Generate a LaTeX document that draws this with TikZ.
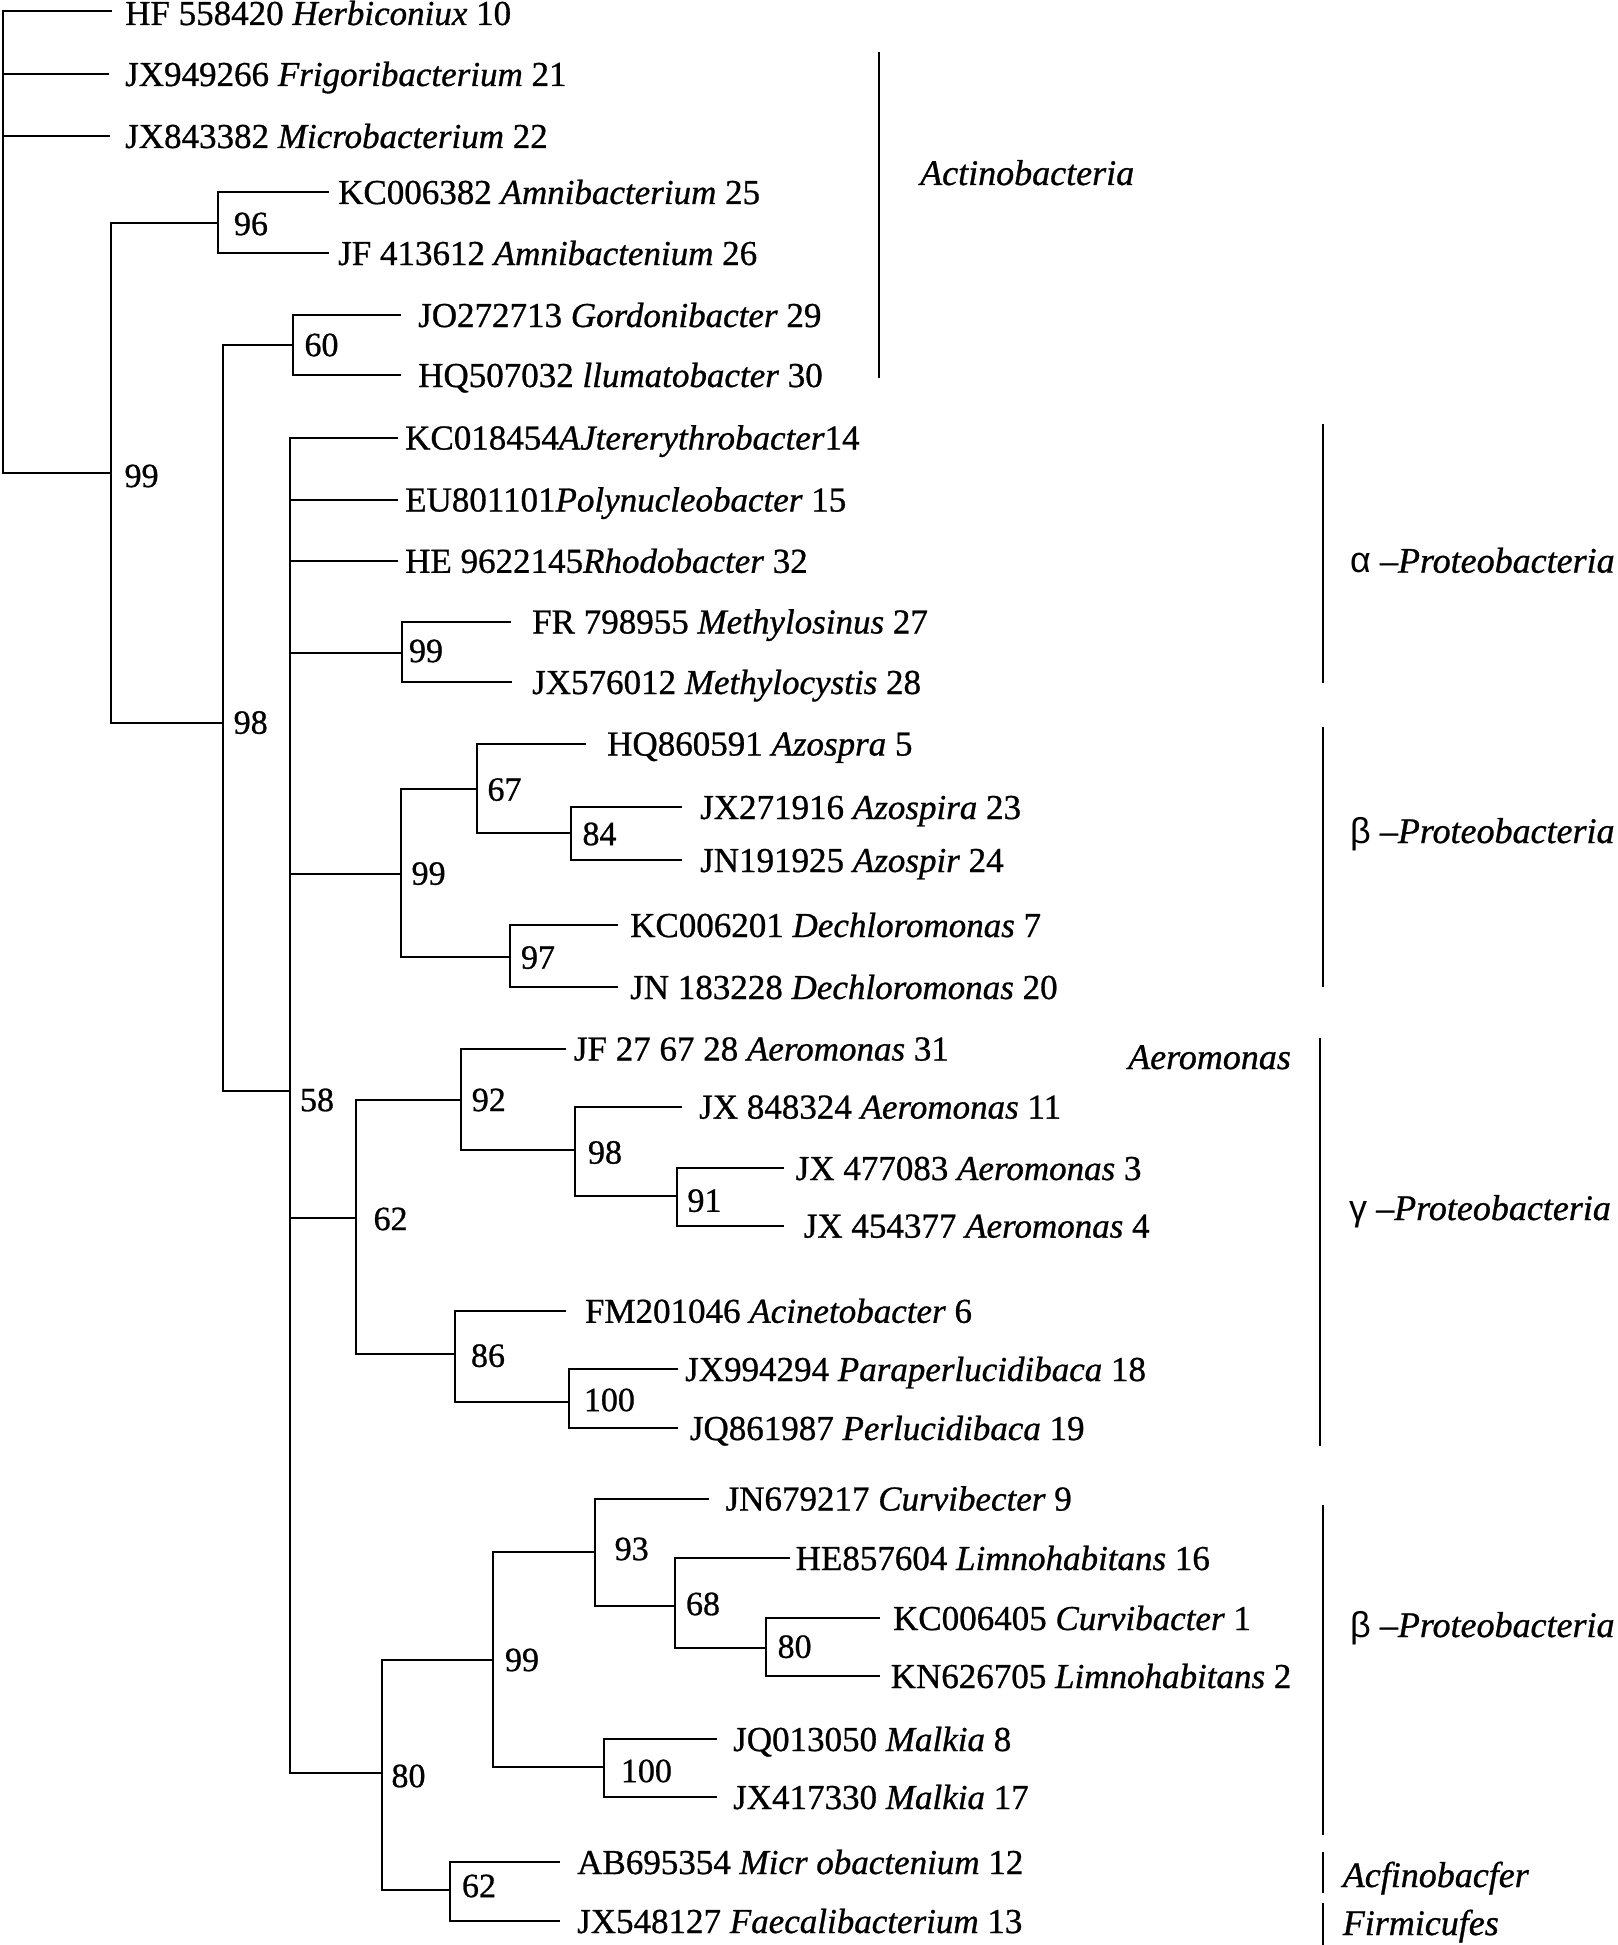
\documentclass[tikz,border=0pt]{standalone}
\usepackage{fontspec}
\setmainfont{Liberation Serif}
\newfontfamily\serfont[RawFeature={embolden=0.8}]{Liberation Serif}
\newfontfamily\grkfont{Liberation Sans}
\begin{document}
\begin{tikzpicture}[x=1pt,y=-1pt,
  edge/.style={line width=2pt},
  bar/.style={line width=2pt},
  leaf/.style={anchor=base west, inner sep=0pt, font=\serfont\fontsize{35}{42}\selectfont},
  boot/.style={inner sep=0pt, font=\serfont\fontsize{34}{40}\selectfont},
  clade/.style={anchor=base west, inner sep=0pt, font=\serfont\fontsize{36}{42}\selectfont}]
\useasboundingbox (0,0) rectangle (1617,1945);

% ---------- internal nodes ----------
\coordinate (root)  at (2.7,240);
\coordinate (n99a)  at (110.6,472.7);
\coordinate (n96)   at (218,222.7);
\coordinate (n98)   at (222.7,722.6);
\coordinate (n60)   at (292.8,345);
\coordinate (n58)   at (290,1091);
\coordinate (n99al) at (402,653);
\coordinate (n99b)  at (401,873.6);
\coordinate (n67)   at (476.8,788.5);
\coordinate (n84)   at (571.4,833);
\coordinate (n97)   at (510,956.5);
\coordinate (n62a)  at (356,1218);
\coordinate (n92)   at (460.7,1100);
\coordinate (n98b)  at (574.6,1150);
\coordinate (n91)   at (677,1195.7);
\coordinate (n86)   at (455.4,1354);
\coordinate (n100a) at (569.2,1401.6);
\coordinate (n80)   at (382,1773);
\coordinate (n99c)  at (493.3,1660);
\coordinate (n93)   at (595,1552);
\coordinate (n68)   at (675,1606.4);
\coordinate (n80b)  at (765.6,1647.7);
\coordinate (n100b) at (604,1767.4);
\coordinate (n62b)  at (450,1890);

% ---------- leaf ends ----------
\coordinate (e1)  at (112,11);
\coordinate (e2)  at (109,74);
\coordinate (e3)  at (110,136);
\coordinate (e4)  at (329,192);
\coordinate (e5)  at (329,253);
\coordinate (e6)  at (401,315);
\coordinate (e7)  at (401,375);
\coordinate (e8)  at (398,437.5);
\coordinate (e9)  at (398,499.5);
\coordinate (e10) at (398,560.8);
\coordinate (e11) at (511,621.5);
\coordinate (e12) at (512,682);
\coordinate (e13) at (586,743.5);
\coordinate (e14) at (682,807);
\coordinate (e15) at (682,860);
\coordinate (e16) at (618,925);
\coordinate (e17) at (618,987);
\coordinate (e18) at (566,1048.5);
\coordinate (e19) at (682,1106.6);
\coordinate (e20) at (784,1168);
\coordinate (e21) at (784,1225.6);
\coordinate (e22) at (566,1310.8);
\coordinate (e23) at (678,1369);
\coordinate (e24) at (678,1428);
\coordinate (e25) at (709,1498.5);
\coordinate (e26) at (790,1558);
\coordinate (e27) at (879.5,1618);
\coordinate (e28) at (879.5,1676);
\coordinate (e29) at (716.5,1739);
\coordinate (e30) at (716.5,1797);
\coordinate (e31) at (560,1862);
\coordinate (e32) at (560,1921);

% ---------- branches ----------
\draw[edge] (root) |- (e1);
\draw[edge] (root) |- (e2);
\draw[edge] (root) |- (e3);
\draw[edge] (root) |- (n99a);
\draw[edge] (n99a) |- (n96);
\draw[edge] (n99a) |- (n98);
\draw[edge] (n96) |- (e4);
\draw[edge] (n96) |- (e5);
\draw[edge] (n98) |- (n60);
\draw[edge] (n98) |- (n58);
\draw[edge] (n60) |- (e6);
\draw[edge] (n60) |- (e7);
\draw[edge] (n58) |- (e8);
\draw[edge] (n58) |- (e9);
\draw[edge] (n58) |- (e10);
\draw[edge] (n58) |- (n99al);
\draw[edge] (n58) |- (n99b);
\draw[edge] (n58) |- (n62a);
\draw[edge] (n58) |- (n80);
\draw[edge] (n99al) |- (e11);
\draw[edge] (n99al) |- (e12);
\draw[edge] (n99b) |- (n67);
\draw[edge] (n99b) |- (n97);
\draw[edge] (n67) |- (e13);
\draw[edge] (n67) |- (n84);
\draw[edge] (n84) |- (e14);
\draw[edge] (n84) |- (e15);
\draw[edge] (n97) |- (e16);
\draw[edge] (n97) |- (e17);
\draw[edge] (n62a) |- (n92);
\draw[edge] (n62a) |- (n86);
\draw[edge] (n92) |- (e18);
\draw[edge] (n92) |- (n98b);
\draw[edge] (n98b) |- (e19);
\draw[edge] (n98b) |- (n91);
\draw[edge] (n91) |- (e20);
\draw[edge] (n91) |- (e21);
\draw[edge] (n86) |- (e22);
\draw[edge] (n86) |- (n100a);
\draw[edge] (n100a) |- (e23);
\draw[edge] (n100a) |- (e24);
\draw[edge] (n80) |- (n99c);
\draw[edge] (n80) |- (n62b);
\draw[edge] (n99c) |- (n93);
\draw[edge] (n99c) |- (n100b);
\draw[edge] (n93) |- (e25);
\draw[edge] (n93) |- (n68);
\draw[edge] (n68) |- (e26);
\draw[edge] (n68) |- (n80b);
\draw[edge] (n80b) |- (e27);
\draw[edge] (n80b) |- (e28);
\draw[edge] (n100b) |- (e29);
\draw[edge] (n100b) |- (e30);
\draw[edge] (n62b) |- (e31);
\draw[edge] (n62b) |- (e32);

% ---------- bootstrap values ----------
\node[boot] (b99a)  at (141.6,476) {99};
\node[boot] (b96)   at (251,224) {96};
\node[boot] (b98)   at (250.7,722.6) {98};
\node[boot] (b60)   at (321.5,345) {60};
\node[boot] (b58)   at (317,1100) {58};
\node[boot] (b99al) at (426,651) {99};
\node[boot] (b99b)  at (428.6,873.6) {99};
\node[boot] (b67)   at (504.5,789.6) {67};
\node[boot] (b84)   at (599.5,834) {84};
\node[boot] (b97)   at (538,957.6) {97};
\node[boot] (b62a)  at (390.6,1219) {62};
\node[boot] (b92)   at (488.8,1100) {92};
\node[boot] (b98b)  at (605,1152.5) {98};
\node[boot] (b91)   at (704.5,1200.7) {91};
\node[boot] (b86)   at (488,1355.7) {86};
\node[boot] (b100a) at (609.4,1400) {100};
\node[boot] (b80)   at (408.5,1776) {80};
\node[boot] (b99c)  at (522,1660) {99};
\node[boot] (b93)   at (631.7,1549) {93};
\node[boot] (b68)   at (703,1604) {68};
\node[boot] (b80b)  at (794.6,1646.7) {80};
\node[boot] (b100b) at (646.4,1771) {100};
\node[boot] (b62b)  at (479,1886) {62};

% ---------- leaf labels ----------
\node[leaf] (t1)  at (125,25)   {HF 558420 \textit{Herbiconiux} 10};
\node[leaf] (t2)  at (125,86)   {JX949266 \textit{Frigoribacterium} 21};
\node[leaf] (t3)  at (125,148)  {JX843382 \textit{Microbacterium} 22};
\node[leaf] (t4)  at (338,204)  {KC006382 \textit{Amnibacterium} 25};
\node[leaf] (t5)  at (338,265)  {JF 413612 \textit{Amnibactenium} 26};
\node[leaf] (t6)  at (418,327)  {JO272713 \textit{Gordonibacter} 29};
\node[leaf] (t7)  at (418,387)  {HQ507032 \textit{llumatobacter} 30};
\node[leaf] (t8)  at (405,449.5) {KC018454\textit{AJtererythrobacter}14};
\node[leaf] (t9)  at (405,511.5) {EU801101\textit{Polynucleobacter} 15};
\node[leaf] (t10) at (405,572.8) {HE 9622145\textit{Rhodobacter} 32};
\node[leaf] (t11) at (532,633.5) {FR 798955 \textit{Methylosinus} 27};
\node[leaf] (t12) at (532,694)  {JX576012 \textit{Methylocystis} 28};
\node[leaf] (t13) at (607,755.5) {HQ860591 \textit{Azospra} 5};
\node[leaf] (t14) at (700,819)  {JX271916 \textit{Azospira} 23};
\node[leaf] (t15) at (700,872)  {JN191925 \textit{Azospir} 24};
\node[leaf] (t16) at (630,937)  {KC006201 \textit{Dechloromonas} 7};
\node[leaf] (t17) at (630,999)  {JN 183228 \textit{Dechloromonas} 20};
\node[leaf] (t18) at (573.7,1060.5) {JF 27 67 28 \textit{Aeromonas} 31};
\node[leaf] (t19) at (699,1118.6) {JX 848324 \textit{Aeromonas} 11};
\node[leaf] (t20) at (795.5,1180) {JX 477083 \textit{Aeromonas} 3};
\node[leaf] (t21) at (803.6,1237.6) {JX 454377 \textit{Aeromonas} 4};
\node[leaf] (t22) at (584.8,1322.8) {FM201046 \textit{Acinetobacter} 6};
\node[leaf] (t23) at (685,1381) {JX994294 \textit{Paraperlucidibaca} 18};
\node[leaf] (t24) at (689.7,1440) {JQ861987 \textit{Perlucidibaca} 19};
\node[leaf] (t25) at (725.4,1510.5) {JN679217 \textit{Curvibecter} 9};
\node[leaf] (t26) at (795.5,1570) {HE857604 \textit{Limnohabitans} 16};
\node[leaf] (t27) at (892.9,1630) {KC006405 \textit{Curvibacter} 1};
\node[leaf] (t28) at (890.6,1688) {KN626705 \textit{Limnohabitans} 2};
\node[leaf] (t29) at (733,1751) {JQ013050 \textit{Malkia} 8};
\node[leaf] (t30) at (733,1809) {JX417330 \textit{Malkia} 17};
\node[leaf] (t31) at (577,1874) {AB695354 \textit{Micr obactenium} 12};
\node[leaf] (t32) at (577,1933) {JX548127 \textit{Faecalibacterium} 13};

% ---------- clade bars ----------
\coordinate (actT) at (879,51.7);    \coordinate (actB) at (879,378);
\coordinate (alpT) at (1322.7,424);  \coordinate (alpB) at (1322.7,683);
\coordinate (betT) at (1322.7,727);  \coordinate (betB) at (1322.7,987);
\coordinate (gamT) at (1320,1038);   \coordinate (gamB) at (1320,1446);
\coordinate (bt2T) at (1322.5,1505); \coordinate (bt2B) at (1322.5,1835);
\coordinate (acfT) at (1322.5,1852); \coordinate (acfB) at (1322.5,1893);
\coordinate (firT) at (1322.5,1903); \coordinate (firB) at (1322.5,1945);
\draw[bar] (actT) -- (actB);
\draw[bar] (alpT) -- (alpB);
\draw[bar] (betT) -- (betB);
\draw[bar] (gamT) -- (gamB);
\draw[bar] (bt2T) -- (bt2B);
\draw[bar] (acfT) -- (acfB);
\draw[bar] (firT) -- (firB);

% ---------- clade labels ----------
\node[clade] (cAct) at (920,185)   {\itshape Actinobacteria};
\node[clade] (cAlp) at (1350,572.7) {{\grkfont α} –\textit{Proteobacteria}};
\node[clade] (cBet) at (1350,843)  {{\grkfont β} –\textit{Proteobacteria}};
\node[clade] (cAer) at (1128,1069) {\itshape Aeromonas};
\node[clade] (cGam) at (1349,1220) {{\grkfont γ} –\textit{Proteobacteria}};
\node[clade] (cBt2) at (1350,1637) {{\grkfont β} –\textit{Proteobacteria}};
\node[clade] (cAcf) at (1342.6,1887) {\itshape Acfinobacfer};
\node[clade] (cFir) at (1342.6,1935) {\itshape Firmicufes};
\end{tikzpicture}
\end{document}
